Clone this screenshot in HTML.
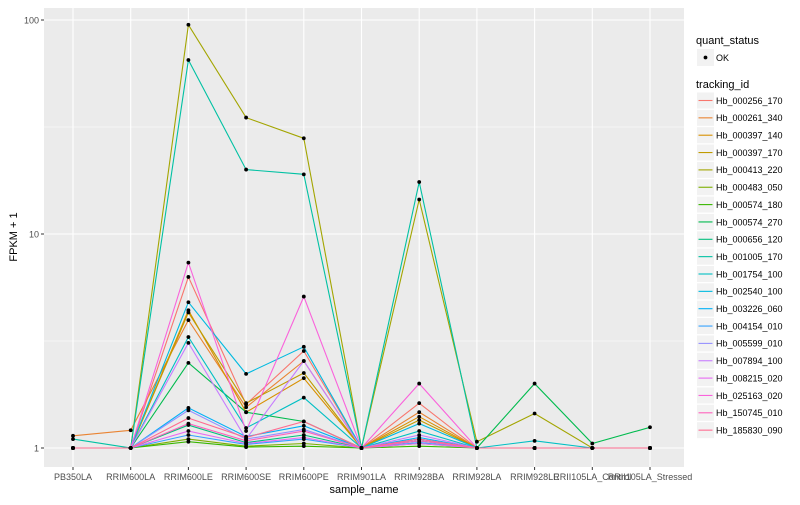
<!DOCTYPE html>
<html><head><meta charset="utf-8"><style>
body{margin:0;background:#fff;font-family:"Liberation Sans",sans-serif}
svg text{font-family:"Liberation Sans",sans-serif}
</style></head><body>
<svg id="chart" width="800" height="500" xmlns="http://www.w3.org/2000/svg"></svg>
<script>
const categories=["PB350LA","RRIM600LA","RRIM600LE","RRIM600SE","RRIM600PE","RRIM901LA","RRIM928BA","RRIM928LA","RRIM928LE","RRII105LA_Control","RRII105LA_Stressed"];
const seriesIds=["Hb_000256_170","Hb_000261_340","Hb_000397_140","Hb_000397_170","Hb_000413_220","Hb_000483_050","Hb_000574_180","Hb_000574_270","Hb_000656_120","Hb_001005_170","Hb_001754_100","Hb_002540_100","Hb_003226_060","Hb_004154_010","Hb_005599_010","Hb_007894_100","Hb_008215_020","Hb_025163_020","Hb_150745_010","Hb_185830_090"];
const seriesColors=["#F8766D","#EA8331","#D89000","#C09B00","#A3A500","#7CAE00","#39B600","#00BB4E","#00BF7D","#00C1A3","#00BFC4","#00BAE0","#00B0F6","#35A2FF","#9590FF","#C77CFF","#E76BF3","#FA62DB","#FF62BC","#FF6C91"];
const s0=[1,1,6.3,1.6,2.84,1,1.62,1,1,1,1];
const s1=[1.14,1.21,3.96,1.55,2.55,1,1.47,1,1,1,1];
const s2=[1,1,4.4,1.47,2.12,1,1.4,1,1,1,1];
const s3=[1,1,4.3,1.62,2.24,1,1.35,1,1,1,1];
const s4=[1,1,95,35,28,1,14.5,1.07,1.45,1,1];
const s5=[1,1,1.1,1.02,1.05,1,1.05,1,1,1,1];
const s6=[1,1,1.07,1.01,1.02,1,1.02,1,1,1,1];
const s7=[1,1,2.5,1.47,1.33,1,1.1,1,2.0,1.05,1.25];
const s8=[1,1,1.28,1.06,1.15,1,1.08,1,1,1,1];
const s9=[1.1,1,65,20,19,1,17.5,1,1,1,1];
const s10=[1,1,3.3,1.24,1.72,1,1.2,1,1.08,1,1];
const s11=[1,1,4.8,2.22,2.97,1,1.3,1,1,1,1];
const s12=[1,1,1.54,1.13,1.27,1,1.12,1,1,1,1];
const s13=[1,1,1.15,1.04,1.1,1,1.06,1,1,1,1];
const s14=[1,1,1.5,1.1,1.22,1,1.1,1,1,1,1];
const s15=[1,1,3.1,1.1,2.55,1,1.15,1,1,1,1];
const s16=[1,1,1.2,1.05,1.12,1,1.05,1,1,1,1];
const s17=[1,1,7.35,1.2,5.1,1,2.0,1,1,1,1];
const s18=[1,1,1.3,1.08,1.2,1,1.08,1,1,1,1];
const s19=[1,1,1.38,1.12,1.33,1,1.1,1,1,1,1];
const seriesValues=[s0,s1,s2,s3,s4,s5,s6,s7,s8,s9,s10,s11,s12,s13,s14,s15,s16,s17,s18,s19];
const yTicks=[1,10,100];
const yTickLabels=["1","10","100"];

const NS="http://www.w3.org/2000/svg";
const svg=document.getElementById('chart');
const P={l:44,r:684,t:8,b:467};
function xPos(i){return 73+i*57.7;}
function yPos(v){return 448-214*Math.log10(v);}
function mk(tag,attrs,parent){const e=document.createElementNS(NS,tag);for(const k in attrs)e.setAttribute(k,attrs[k]);(parent||svg).appendChild(e);return e;}

const panel=mk('rect',{x:P.l,y:P.t,width:P.r-P.l,height:P.b-P.t,fill:'#EBEBEB'});


[Math.sqrt(10),Math.sqrt(1000)].forEach(v=>{
  const g=mk('line',{x1:P.l,x2:P.r,y1:yPos(v),y2:yPos(v),stroke:'#fff','stroke-width':0.5});
  
  
});
yTicks.forEach((v,i)=>{
  const g=mk('line',{x1:P.l,x2:P.r,y1:yPos(v),y2:yPos(v),stroke:'#fff','stroke-width':1.1});
  
  
  const t=mk('line',{x1:P.l-3,x2:P.l,y1:yPos(v),y2:yPos(v),stroke:'#333','stroke-width':1});
  
  
  const l=mk('text',{x:P.l-5,y:yPos(v)+3.5,'text-anchor':'end','font-size':9,fill:'#4D4D4D'});
  l.textContent=yTickLabels[i];
  
  
});
categories.forEach((c,i)=>{
  const g=mk('line',{x1:xPos(i),x2:xPos(i),y1:P.t,y2:P.b,stroke:'#fff','stroke-width':1.1});
  
  
  const t=mk('line',{x1:xPos(i),x2:xPos(i),y1:P.b,y2:P.b+3,stroke:'#333','stroke-width':1});
  
  
  const l=mk('text',{x:xPos(i),y:480,'text-anchor':'middle','font-size':9,fill:'#4D4D4D'});
  l.textContent=c;
  
  
});
seriesValues.forEach((vals,s)=>{
  const pts=vals.map((v,i)=>xPos(i).toFixed(1)+','+yPos(v).toFixed(1)).join(' ');
  const pl=mk('polyline',{points:pts,fill:'none',stroke:seriesColors[s],'stroke-width':1.1});
  
  
});
seriesValues.forEach((vals,s)=>{
  vals.forEach((v,i)=>{
    const p=mk('circle',{cx:xPos(i),cy:yPos(v),r:1.9,fill:'#000'});
    
    
  });
});
const xt=mk('text',{x:(P.l+P.r)/2,y:493,'text-anchor':'middle','font-size':11,fill:'#000'});
xt.textContent='sample_name';


const yt=mk('text',{x:17,y:237,'text-anchor':'middle','font-size':11,fill:'#000',transform:'rotate(-90 17 237)'});
yt.textContent='FPKM + 1';


const lt1=mk('text',{x:696,y:44,'font-size':11,fill:'#000'});
lt1.textContent='quant_status';


const kb=mk('rect',{x:697,y:49,width:17,height:17,fill:'#F2F2F2'});


const kd=mk('circle',{cx:705.5,cy:57.5,r:1.9,fill:'#000'});


const ko=mk('text',{x:716,y:61,'font-size':9,fill:'#000'});
ko.textContent='OK';


const lt2=mk('text',{x:696,y:88,'font-size':11,fill:'#000'});
lt2.textContent='tracking_id';


seriesIds.forEach((id,s)=>{
  const y=100.5+s*17.35;
  const b=mk('rect',{x:697,y:y-8,width:17,height:16,fill:'#F2F2F2'});
  
  
  const l=mk('line',{x1:698.5,x2:712.5,y1:y,y2:y,stroke:seriesColors[s],'stroke-width':1.1});
  
  
  const t=mk('text',{x:716,y:y+3.3,'font-size':9,fill:'#000'});
  t.textContent=id;
  
  
});
</script>
</body></html>
